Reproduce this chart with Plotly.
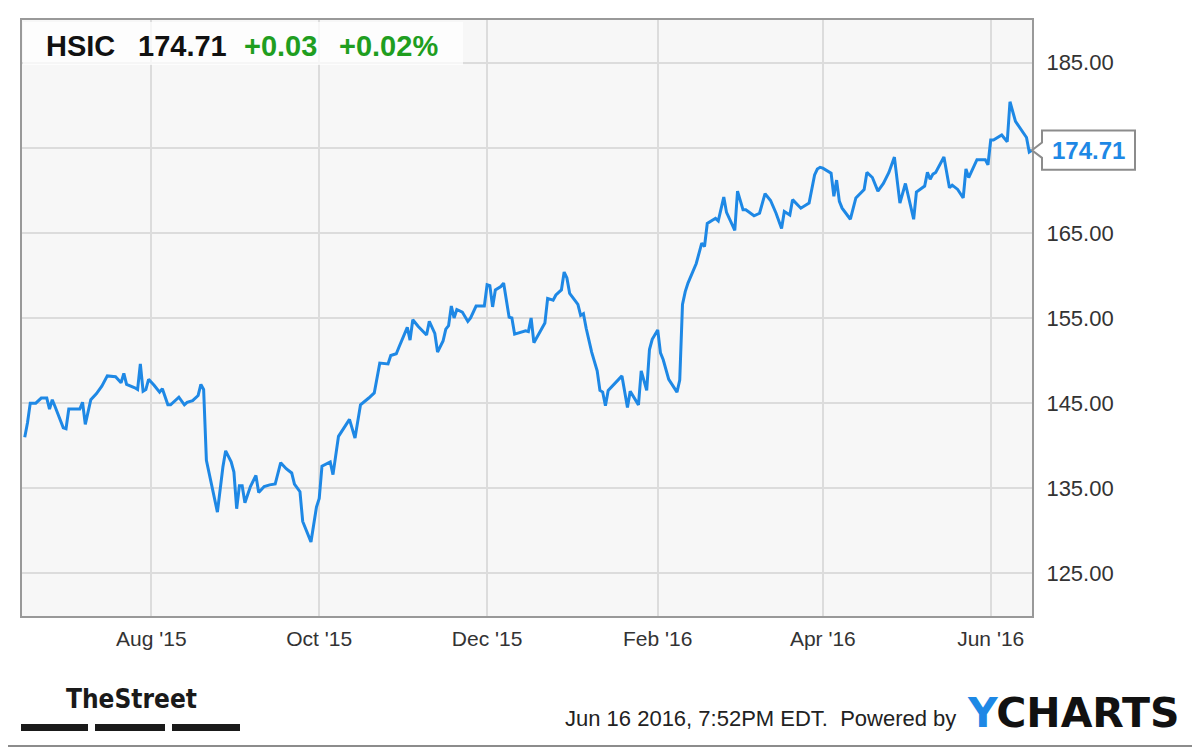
import plotly.graph_objects as go

# HSIC one-year price chart (YCharts style)

ticker = "HSIC"
last_price = 174.71
change = "+0.03"
change_pct = "+0.02%"
stamp = "Jun 16 2016, 7:52PM EDT."

dates = [
    "2015-06-16", "2015-06-17", "2015-06-18", "2015-06-20", "2015-06-22", "2015-06-24", "2015-06-25",
    "2015-06-26", "2015-06-27", "2015-06-30", "2015-07-01", "2015-07-02", "2015-07-04", "2015-07-06",
    "2015-07-07", "2015-07-08", "2015-07-10", "2015-07-12", "2015-07-14", "2015-07-16", "2015-07-19",
    "2015-07-21", "2015-07-22", "2015-07-23", "2015-07-26", "2015-07-27", "2015-07-28", "2015-07-29",
    "2015-07-30", "2015-07-31", "2015-08-02", "2015-08-04", "2015-08-05", "2015-08-07", "2015-08-08",
    "2015-08-11", "2015-08-13", "2015-08-14", "2015-08-16", "2015-08-18", "2015-08-19", "2015-08-20",
    "2015-08-21", "2015-08-23", "2015-08-25", "2015-08-27", "2015-08-28", "2015-08-30", "2015-08-31",
    "2015-09-01", "2015-09-02", "2015-09-03", "2015-09-04", "2015-09-06", "2015-09-08", "2015-09-09",
    "2015-09-11", "2015-09-13", "2015-09-15", "2015-09-17", "2015-09-19", "2015-09-21", "2015-09-22",
    "2015-09-24", "2015-09-25", "2015-09-28", "2015-09-30", "2015-10-01", "2015-10-02", "2015-10-05",
    "2015-10-06", "2015-10-08", "2015-10-12", "2015-10-14", "2015-10-16", "2015-10-19", "2015-10-21",
    "2015-10-23", "2015-10-26", "2015-10-27", "2015-10-29", "2015-10-30", "2015-11-02", "2015-11-03",
    "2015-11-04", "2015-11-06", "2015-11-09", "2015-11-10", "2015-11-12", "2015-11-13", "2015-11-15",
    "2015-11-16", "2015-11-17", "2015-11-18", "2015-11-19", "2015-11-20", "2015-11-22", "2015-11-24",
    "2015-11-25", "2015-11-27", "2015-11-28", "2015-11-30", "2015-12-01", "2015-12-02", "2015-12-03",
    "2015-12-04", "2015-12-06", "2015-12-07", "2015-12-09", "2015-12-10", "2015-12-11", "2015-12-13",
    "2015-12-15", "2015-12-16", "2015-12-17", "2015-12-18", "2015-12-20", "2015-12-22", "2015-12-23",
    "2015-12-25", "2015-12-26", "2015-12-28", "2015-12-29", "2015-12-30", "2015-12-31", "2016-01-03",
    "2016-01-04", "2016-01-05", "2016-01-06", "2016-01-08", "2016-01-10", "2016-01-11", "2016-01-12",
    "2016-01-13", "2016-01-14", "2016-01-16", "2016-01-19", "2016-01-21", "2016-01-22", "2016-01-25",
    "2016-01-26", "2016-01-28", "2016-01-29", "2016-01-30", "2016-02-01", "2016-02-02", "2016-02-03",
    "2016-02-05", "2016-02-08", "2016-02-09", "2016-02-10", "2016-02-11", "2016-02-12", "2016-02-15",
    "2016-02-17", "2016-02-18", "2016-02-19", "2016-02-21", "2016-02-22", "2016-02-23", "2016-02-25",
    "2016-02-26", "2016-02-29", "2016-03-01", "2016-03-03", "2016-03-04", "2016-03-07", "2016-03-09",
    "2016-03-11", "2016-03-13", "2016-03-15", "2016-03-17", "2016-03-18", "2016-03-20", "2016-03-21",
    "2016-03-24", "2016-03-27", "2016-03-29", "2016-03-30", "2016-03-31", "2016-04-01", "2016-04-04",
    "2016-04-05", "2016-04-06", "2016-04-07", "2016-04-08", "2016-04-11", "2016-04-13", "2016-04-14",
    "2016-04-16", "2016-04-17", "2016-04-19", "2016-04-21", "2016-04-23", "2016-04-25", "2016-04-27",
    "2016-04-29", "2016-04-30", "2016-05-01", "2016-05-04", "2016-05-05", "2016-05-08", "2016-05-09",
    "2016-05-10", "2016-05-11", "2016-05-12", "2016-05-15", "2016-05-17", "2016-05-18", "2016-05-20",
    "2016-05-22", "2016-05-23", "2016-05-24", "2016-05-27", "2016-05-30", "2016-05-31", "2016-06-01",
    "2016-06-02", "2016-06-05", "2016-06-07", "2016-06-08", "2016-06-10", "2016-06-13", "2016-06-14",
    "2016-06-15", "2016-06-16",
]

prices = [
    141.0, 142.7, 145.0, 145.0, 145.6, 145.6, 144.3,
    145.4, 144.6, 142.1, 142.0, 144.3, 144.3, 144.3,
    145.1, 142.5, 145.4, 146.1, 147.0, 148.2, 148.1,
    147.4, 148.5, 147.2, 146.8, 146.6, 149.6, 146.4,
    146.6, 147.8, 147.1, 146.3, 146.7, 144.8, 144.8,
    145.7, 144.8, 145.1, 145.3, 145.9, 147.2, 146.6,
    138.3, 135.2, 132.2, 137.5, 139.4, 138.1, 136.9,
    132.6, 135.3, 135.3, 133.3, 135.2, 136.5, 134.5,
    135.2, 135.4, 135.5, 138.0, 137.3, 136.8, 135.5,
    134.6, 131.1, 128.7, 132.8, 133.8, 137.6, 138.1,
    136.6, 141.1, 143.1, 140.9, 144.8, 145.6, 146.2,
    149.7, 149.6, 150.6, 150.8, 151.6, 153.9, 152.4,
    154.8, 154.0, 153.0, 154.6, 153.2, 151.0, 152.3,
    153.7, 154.1, 156.4, 155.0, 156.0, 155.7, 154.6,
    155.0, 156.4, 156.4, 156.4, 158.9, 158.8, 156.3,
    158.3, 158.7, 159.1, 155.1, 155.0, 153.1, 153.3,
    153.5, 153.4, 155.0, 152.1, 153.3, 154.4, 157.3,
    157.1, 157.7, 158.3, 160.4, 159.7, 157.9, 156.6,
    155.3, 155.5, 153.8, 151.0, 148.8, 146.5, 146.3,
    144.7, 146.5, 147.2, 148.2, 144.5, 146.4, 144.8,
    148.8, 146.5, 151.3, 152.5, 153.6, 150.9, 150.1,
    147.8, 146.3, 147.7, 156.6, 158.1, 159.1, 161.4,
    163.8, 163.4, 166.1, 166.5, 166.7, 166.4, 169.2,
    167.4, 165.3, 169.9, 167.7, 167.7, 167.0, 167.3,
    169.6, 168.8, 167.3, 165.5, 167.5, 167.1, 168.9,
    167.9, 168.5, 171.8, 172.5, 172.7, 172.6, 172.0,
    169.3, 171.2, 168.7, 167.9, 166.6, 169.1, 169.4,
    170.1, 172.1, 171.5, 169.9, 170.8, 172.1, 173.9,
    168.5, 169.8, 170.8, 166.6, 169.8, 170.5, 172.1,
    171.3, 171.9, 172.1, 173.9, 170.3, 170.6, 170.1,
    169.1, 172.5, 171.5, 173.6, 173.6, 173.0, 175.9,
    175.9, 176.5, 175.7, 180.4, 178.1, 176.7, 176.2,
    174.5, 174.71,
]

x_range = ["2015-06-15", "2016-06-16"]
y_range = [120, 190]
y_ticks = [125, 135, 145, 155, 165, 175, 185]

LINE = "#1e88e5"
GREEN = "#1f9e1f"
GRID = "#dcdcdc"
AXIS = "#999999"
FONT = "Liberation Sans, Arial, sans-serif"

# geometry: the page body adds an 8px margin, so everything is shifted back by OFF
OFF = 8
FIG_W, FIG_H = 1200, 747
PW, PH = 1010, 596
M_L, M_T = 22 - OFF, 20 - OFF
M_R = FIG_W - M_L - PW
M_B = FIG_H - M_T - PH


def px(x):
    # reference pixel x -> paper x
    return (x - OFF - M_L) / PW


def py(y):
    # reference pixel y -> paper y
    return (M_T + PH - (y - OFF)) / PH


fig = go.Figure()
fig.add_trace(go.Scatter(
    x=dates, y=prices,
    mode="lines",
    line=dict(color=LINE, width=3),
    hoverinfo="skip",
    showlegend=False,
))

fig.update_layout(
    width=FIG_W, height=FIG_H,
    margin=dict(l=M_L, r=M_R, t=M_T, b=M_B, autoexpand=False),
    paper_bgcolor="#ffffff",
    plot_bgcolor="#f7f7f7",
    font=dict(family=FONT, color="#333333"),
    hovermode=False,
)

fig.update_xaxes(
    type="date",
    range=x_range,
    tick0="2015-08-01",
    dtick="M2",
    tickformat="%b '%y",
    showgrid=True, gridcolor=GRID, gridwidth=1.5,
    showline=True, linecolor=AXIS, linewidth=2, mirror=True,
    ticks="",
    tickfont=dict(size=21, color="#333333"),
    ticklabelstandoff=3,
    zeroline=False,
)

# the 175 label sits under the last-price callout, so it is left blank
fig.update_yaxes(
    side="right",
    range=y_range,
    tickvals=y_ticks,
    ticktext=["" if abs(v - last_price) < 3 else f"{v:.2f}" for v in y_ticks],
    showgrid=True, gridcolor=GRID, gridwidth=1.5,
    showline=True, linecolor=AXIS, linewidth=2, mirror=True,
    ticks="",
    tickfont=dict(size=22, color="#333333"),
    ticklabelstandoff=8,
    zeroline=False,
)

shapes = []

# header box
shapes.append(dict(
    type="rect", xref="paper", yref="paper",
    x0=px(23), x1=px(463), y0=py(65), y1=py(22),
    fillcolor="rgba(255,255,255,0.75)", line=dict(width=0), layer="above",
))

# last price callout with a notch pointing at the line end
bx0, bx1 = px(1042), px(1135)
half_box, half_notch = 2.3, 0.9
callout_path = (
    f"M 1,{last_price} "
    f"L {bx0},{last_price + half_notch} L {bx0},{last_price + half_box} "
    f"L {bx1},{last_price + half_box} L {bx1},{last_price - half_box} "
    f"L {bx0},{last_price - half_box} L {bx0},{last_price - half_notch} Z"
)
shapes.append(dict(
    type="path", xref="paper", yref="y", path=callout_path,
    fillcolor="#ffffff", line=dict(color="#8c8c8c", width=2), layer="above",
))

# TheStreet bars
for x0, x1 in [(21, 88), (95, 165), (172, 240)]:
    shapes.append(dict(
        type="rect", xref="paper", yref="paper",
        x0=px(x0), x1=px(x1), y0=py(731), y1=py(724),
        fillcolor="#1a1a1a", line=dict(width=0),
    ))

# outer frame
shapes.append(dict(
    type="rect", xref="paper", yref="paper",
    x0=px(1), x1=px(1199), y0=py(746), y1=py(1),
    fillcolor="rgba(0,0,0,0)", line=dict(color="#8c8c8c", width=2),
))

fig.update_layout(shapes=shapes)

ann = [
    dict(text=f"<b>{ticker}</b>", x=px(44), y=py(46), font=dict(size=29, color="#111111")),
    dict(text=f"<b>{last_price:.2f}</b>", x=px(136), y=py(46), font=dict(size=29, color="#111111")),
    dict(text=f"<b>{change}</b>", x=px(242), y=py(46), font=dict(size=29, color=GREEN)),
    dict(text=f"<b>{change_pct}</b>", x=px(337), y=py(46), font=dict(size=29, color=GREEN)),
    dict(text="<b>TheStreet</b>", x=px(131), y=py(699), xanchor="center",
         font=dict(size=26, color="#1a1a1a", family="Liberation Sans Narrow, DejaVu Sans Condensed, sans-serif")),
    dict(text=f"{stamp}&nbsp; Powered by", x=px(958), y=py(718), xanchor="right",
         font=dict(size=22, color="#222222")),
    dict(text="<span style='color:#1e88e5'>Y</span>CHARTS", x=px(965), y=py(713),
         font=dict(size=41, color="#111111", family="DejaVu Sans, sans-serif", weight=700)),
]
for a in ann:
    a.setdefault("xanchor", "left")
    fig.add_annotation(xref="paper", yref="paper", yanchor="middle", showarrow=False, **a)

fig.add_annotation(
    xref="paper", yref="y", x=(bx0 + bx1) / 2, y=last_price,
    text=f"<b>{last_price:.2f}</b>", showarrow=False,
    xanchor="center", yanchor="middle",
    font=dict(size=24, color=LINE),
)

fig.write_html("out.html")
